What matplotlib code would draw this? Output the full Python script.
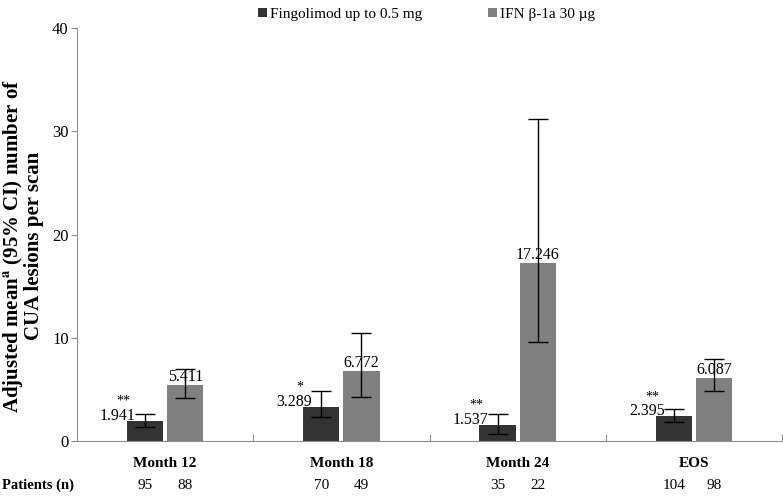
import numpy as np
import matplotlib.pyplot as plt

plt.rcParams["font.family"] = ["Liberation Serif", "DejaVu Serif"]
plt.rcParams["mathtext.fontset"] = "stix"

categories = ["Month 12", "Month 18", "Month 24", "EOS"]
fingo_mean = [1.941, 3.289, 1.537, 2.395]
fingo_lo = [1.4, 2.3, 0.7, 1.8]
fingo_hi = [2.6, 4.8, 2.6, 3.1]
ifn_mean = [5.411, 6.772, 17.246, 6.087]
ifn_lo = [4.2, 4.3, 9.6, 4.8]
ifn_hi = [7.0, 10.5, 31.2, 7.9]
fingo_sig = ["**", "*", "**", "**"]
fingo_n = [95, 70, 35, 104]
ifn_n = [88, 49, 22, 98]

DARK = "#333333"
LIGHT = "#808080"
AXC = "#8c8c8c"

fig = plt.figure(figsize=(7.83, 4.96), dpi=100)
ax = fig.add_axes([0.0983, 0.1109, 0.9005, 0.8326])

x = np.arange(len(categories))
w = 0.205
off = 0.114
ebkw = dict(ecolor="black", elinewidth=1, capsize=7.5, capthick=1)

fm = np.array(fingo_mean)
im = np.array(ifn_mean)
ax.bar(x - off, fm, w, color=DARK, label="Fingolimod up to 0.5 mg", zorder=2)
ax.bar(x + off, im, w, color=LIGHT, label="IFN β-1a 30 µg", zorder=2)
ax.errorbar(x - off, fm, yerr=[fm - np.array(fingo_lo), np.array(fingo_hi) - fm],
            fmt="none", zorder=3, **ebkw)
ax.errorbar(x + off, im, yerr=[im - np.array(ifn_lo), np.array(ifn_hi) - im],
            fmt="none", zorder=3, **ebkw)

for i in range(len(categories)):
    left = x[i] - off - w / 2
    ax.text(left + 0.05, fm[i] + 0.5, f"{fm[i]:.3f}", ha="right", va="center",
            fontsize=11.5, zorder=4)
    ax.text(left - 0.02, fm[i] + 1.9, fingo_sig[i], ha="center", va="center",
            fontsize=10, zorder=4)
    ax.text(x[i] + off, im[i], f"{im[i]:.3f}", ha="center", va="bottom",
            fontsize=11.5, zorder=4)

ax.set_xlim(-0.5, 3.5)
ax.set_ylim(0, 40)
ax.set_yticks([0, 10, 20, 30, 40])
ax.tick_params(axis="y", direction="out", length=4, color=AXC, labelsize=12, pad=2)
ax.set_xticks(np.arange(0.5, 4, 1))
ax.set_xticklabels([])
ax.tick_params(axis="x", direction="in", length=5, color=AXC)
for s in ["top", "right"]:
    ax.spines[s].set_visible(False)
for s in ["left", "bottom"]:
    ax.spines[s].set_color(AXC)

ax.set_ylabel("Adjusted mean$^{\\mathbf{a}}$ (95% CI) number of\nCUA lesions per scan",
              fontsize=15, fontweight="bold", linespacing=0.95)
ax.yaxis.set_label_coords(-0.047, 0.472)

trans = ax.get_xaxis_transform()
for i, c in enumerate(categories):
    ax.text(x[i], -0.055, c, transform=trans, ha="center", va="center",
            fontsize=11, fontweight="bold")
    ax.text(x[i] - off, -0.107, str(fingo_n[i]), transform=trans, ha="center",
            va="center", fontsize=11)
    ax.text(x[i] + off, -0.107, str(ifn_n[i]), transform=trans, ha="center",
            va="center", fontsize=11)
fig.text(0.002, 1 - 485 / 496, "Patients (n)", ha="left", va="center",
         fontsize=10.5, fontweight="bold")

fig.legend(loc="upper center", bbox_to_anchor=(0.545, 1.012), ncol=2, frameon=False,
           fontsize=11, handlelength=0.6, handleheight=0.6, handletextpad=0.2,
           columnspacing=4.3)

fig.savefig("out.png", dpi=100)
